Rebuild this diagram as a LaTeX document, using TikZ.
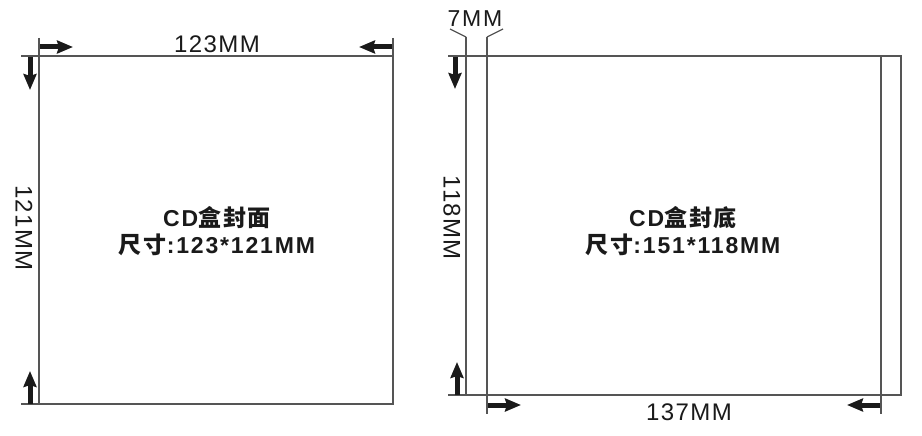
\documentclass[tikz,border=0pt]{standalone}
\usepackage{fontspec}
\setmainfont{Liberation Sans}
\newfontfamily\cjk{Noto Sans CJK SC}[LetterSpace=8]
\usetikzlibrary{arrows.meta}
\definecolor{edge}{HTML}{555555}
\definecolor{ink}{HTML}{1A1A1A}
\tikzset{
  boxline/.style={draw=edge,line width=1.3pt},
  dimarrow/.style={ink,line width=5pt,-{Stealth[length=16pt,width=13pt,inset=2pt]}},
  dimlabel/.style={ink,inner sep=0pt,font=\fontsize{24}{24}\selectfont\addfontfeature{LetterSpace=6}},
  caption/.style={ink,align=center,inner sep=0pt,font=\bfseries\fontsize{23}{27}\selectfont\addfontfeature{LetterSpace=8}}
}

\begin{document}
\begin{tikzpicture}[x=1pt,y=-1pt]
\useasboundingbox (0,0) rectangle (922,436);
% front cover
\draw[boxline] (39,56) rectangle (393,404);
\draw[boxline] (21,56) -- (39,56);
\draw[boxline] (21,404) -- (39,404);
\draw[boxline] (39,38) -- (39,56);
\draw[boxline] (393,38) -- (393,56);
\draw[dimarrow] (40,47) -- (73,47);
\draw[dimarrow] (392,47) -- (359,47);
\draw[dimarrow] (30,57) -- (30,90);
\draw[dimarrow] (30,404) -- (30,371);
\node[dimlabel] (frontw) at (217,44) {123MM};
\node[dimlabel,rotate=-90] (fronth) at (24,228) {121MM};
\node[caption] (front) at (217,231) {CD{\cjk 盒封面}\\{\cjk 尺寸}:123*121MM};

% back cover
\draw[boxline] (466,56) rectangle (901,395);
\draw[boxline] (448,56) -- (466,56);
\draw[boxline] (448,395) -- (466,395);
\draw[boxline] (466,37) -- (466,56);
\draw[boxline] (487,37) -- (487,414);
\draw[boxline] (881,56) -- (881,414);
\draw[boxline] (450,29) -- (466,37);
\draw[boxline] (503,29) -- (487,37);
\draw[dimarrow] (455,57) -- (455,89);
\draw[dimarrow] (457,395) -- (457,362);
\draw[dimarrow] (488,405) -- (521,405);
\draw[dimarrow] (880,405) -- (847,405);
\node[dimlabel,font=\fontsize{23}{23}\selectfont\addfontfeature{LetterSpace=8}] (spine) at (475,19) {7MM};
\node[dimlabel] (backw) at (689,412) {137MM};
\node[dimlabel,rotate=-90] (backh) at (452,218) {118MM};
\node[caption] (back) at (683,231) {CD{\cjk 盒封底}\\{\cjk 尺寸}:151*118MM};
\end{tikzpicture}
\end{document}
